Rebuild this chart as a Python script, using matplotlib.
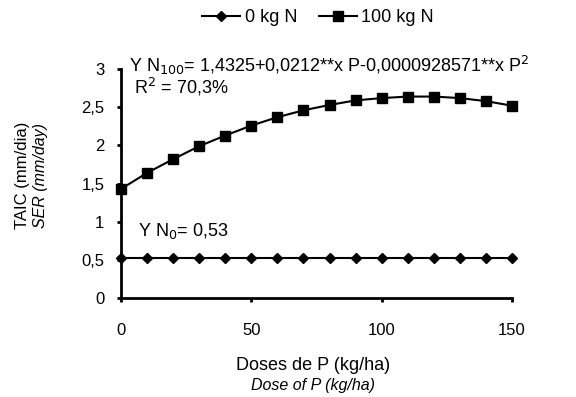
import matplotlib.pyplot as plt
from matplotlib.ticker import FuncFormatter

plt.rcParams['font.family'] = ['Liberation Sans', 'DejaVu Sans']

doses = [0, 10, 20, 30, 40, 50, 60, 70, 80, 90, 100, 110, 120, 130, 140, 150]
n0 = [0.53] * 16
n100 = [1.43, 1.64, 1.82, 1.99, 2.13, 2.26, 2.37, 2.46, 2.53, 2.59, 2.62, 2.64, 2.64, 2.62, 2.58, 2.52]
labels = ['0 kg N', '100 kg N']

fig = plt.figure(figsize=(5.76, 3.97), dpi=100)
ax = fig.add_axes([0.210, 0.249, 0.679, 0.577])

ax.plot(doses, n0, color='black', lw=1.5, marker='D', ms=5.5, clip_on=False, label=labels[0])
ax.plot(doses, n100, color='black', lw=1.5, marker='s', ms=6.5, clip_on=False, label=labels[1])

ax.set_xlim(0, 150)
ax.set_ylim(0, 3)
ax.set_xticks([0, 50, 100, 150])
ax.set_yticks([0, 0.5, 1, 1.5, 2, 2.5, 3])
ax.yaxis.set_major_formatter(FuncFormatter(lambda v, p: f'{v:g}'.replace('.', ',')))
for s in ['top', 'right']:
    ax.spines[s].set_visible(False)
for s in ['left', 'bottom']:
    ax.spines[s].set_linewidth(2)
ax.tick_params(axis='both', direction='out', width=2, length=3, labelsize=12)
ax.tick_params(axis='x', pad=15)
ax.tick_params(axis='y', pad=9)

eq = ('Y N$_{100}$= 1,4325+0,0212**x P-0,0000928571**x P$^2$\n'
      ' R$^2$ = 70,3%')
ax.text(3, 2.91, eq, fontsize=13, va='center', ha='left', linespacing=0.95)
ax.text(6.5, 0.88, 'Y N$_0$= 0,53', fontsize=13, va='center', ha='left')

ax.text(-0.252, 0.535, 'TAIC (mm/dia)', transform=ax.transAxes, rotation=90,
        fontsize=12, va='center', ha='center')
ax.text(-0.206, 0.535, 'SER (mm/day)', transform=ax.transAxes, rotation=90,
        fontsize=11.5, style='italic', va='center', ha='center')
ax.text(0.49, -0.293, 'Doses de P (kg/ha)', transform=ax.transAxes,
        fontsize=13, va='center', ha='center')
ax.text(0.49, -0.38, 'Dose of P (kg/ha)', transform=ax.transAxes,
        fontsize=11.5, style='italic', va='center', ha='center')

fig.legend(loc='center', bbox_to_anchor=(0.552, 0.955), ncol=2, frameon=False,
           fontsize=13, handlelength=2.1, columnspacing=1.2, handletextpad=0.25)

fig.savefig('out.png', dpi=100)
